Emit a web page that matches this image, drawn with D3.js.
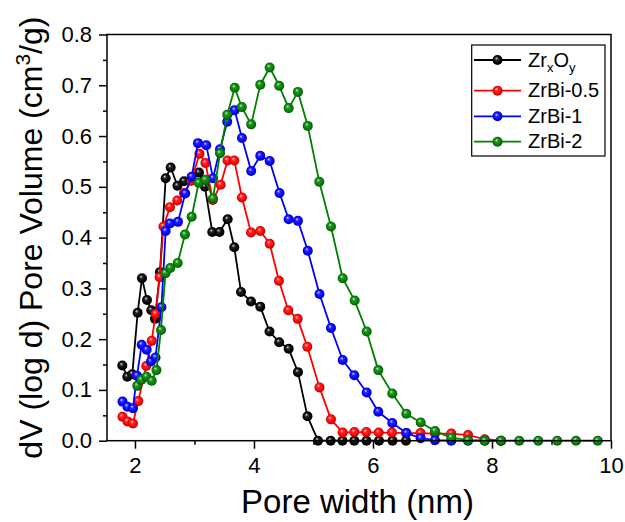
<!DOCTYPE html>
<html><head><meta charset="utf-8">
<script src="https://cdn.jsdelivr.net/npm/d3@7"></script>
<style>
body{margin:0;background:#fff}
svg{display:block;font-family:Arial,"Liberation Sans",sans-serif}
</style>
</head><body><svg id="chart" width="625" height="522"></svg>
<script>
const seriesNames = ["ZrxOy", "ZrBi-0.5", "ZrBi-1", "ZrBi-2"];
const seriesColors = ["#000000", "#ff0000", "#0000ff", "#008000"];

const zrOx_x = [1.787,1.871,1.955,2.045,2.118,2.202,2.274,2.336,2.420,2.516,2.600,2.714,2.824,2.941,3.076,3.176,3.299,3.420,3.558,3.669,3.782,3.950,4.106,4.261,4.424,4.583,4.739,4.899,5.076,5.289,5.487,5.686,5.891,6.101,6.328,6.555];
const zrOx_y = [0.148,0.126,0.131,0.252,0.320,0.277,0.257,0.240,0.332,0.517,0.538,0.502,0.511,0.513,0.528,0.500,0.411,0.411,0.436,0.381,0.293,0.274,0.264,0.215,0.194,0.181,0.135,0.048,0,0,0,0,0,0,0,0];

const zrBi05_x = [1.790,1.874,1.966,2.055,2.190,2.281,2.348,2.415,2.479,2.588,2.711,2.824,2.950,3.084,3.185,3.308,3.440,3.555,3.669,3.798,3.950,4.106,4.264,4.420,4.576,4.734,4.896,5.101,5.294,5.491,5.686,5.887,6.096,6.319,6.555,6.798,7.042,7.316,7.597,7.877,8.151];
const zrBi05_y = [0.047,0.038,0.034,0.078,0.147,0.197,0.250,0.322,0.422,0.460,0.473,0.488,0.512,0.565,0.547,0.474,0.504,0.552,0.552,0.479,0.410,0.413,0.388,0.315,0.257,0.240,0.185,0.105,0.042,0.016,0.017,0.017,0.016,0.016,0.015,0.015,0.014,0.014,0.011,0.003,0];

const zrBi1_x = [1.790,1.874,1.966,2.034,2.113,2.197,2.269,2.345,2.445,2.516,2.588,2.723,2.845,2.953,3.059,3.198,3.311,3.429,3.551,3.676,3.798,3.953,4.106,4.264,4.429,4.583,4.739,4.904,5.101,5.294,5.491,5.686,5.894,6.089,6.324,6.563,6.802,7.042,7.316,7.597,7.877,8.151];
const zrBi1_y = [0.077,0.067,0.064,0.128,0.189,0.179,0.156,0.164,0.263,0.413,0.428,0.431,0.487,0.520,0.586,0.582,0.517,0.574,0.628,0.651,0.596,0.531,0.561,0.551,0.488,0.436,0.433,0.374,0.289,0.222,0.159,0.129,0.095,0.057,0.035,0.015,0.005,0.001,0,0,0,0];

const zrBi2_x = [2.039,2.109,2.193,2.281,2.361,2.437,2.513,2.593,2.718,2.840,2.953,3.071,3.182,3.311,3.429,3.551,3.676,3.795,3.953,4.106,4.264,4.424,4.583,4.739,4.904,5.097,5.294,5.491,5.692,5.894,6.089,6.324,6.560,6.802,7.042,7.316,7.597,7.877,8.151,8.457,8.778,9.096,9.412,9.776];
const zrBi2_y = [0.108,0.120,0.126,0.118,0.139,0.218,0.330,0.340,0.350,0.406,0.441,0.508,0.514,0.477,0.566,0.642,0.695,0.657,0.623,0.701,0.735,0.699,0.655,0.687,0.620,0.510,0.422,0.320,0.276,0.215,0.139,0.093,0.053,0.036,0.019,0.006,0.001,0,0,0,0,0,0,0];

const xTicks = [2, 4, 6, 8, 10];
const xMinorTicks = [3, 5, 7, 9];
const yTicks = [0, 0.1, 0.2, 0.3, 0.4, 0.5, 0.6, 0.7, 0.8];
const yMinorTicks = [0.05, 0.15, 0.25, 0.35, 0.45, 0.55, 0.65, 0.75];

const allX = [zrOx_x, zrBi05_x, zrBi1_x, zrBi2_x];
const allY = [zrOx_y, zrBi05_y, zrBi1_y, zrBi2_y];

const svg = d3.select("#chart");
const L = 107, R = 611, T = 34.5, B = 440.7;
const x = d3.scaleLinear().domain([1.53, 10]).range([L, R]);
const y = d3.scaleLinear().domain([0, 0.8]).range([B, T]);

// gradients
const defs = svg.append("defs");
seriesColors.forEach((c, i) => {
  const g = defs.append("radialGradient").attr("id", "g" + i)
    .attr("cx", "0.5").attr("cy", "0.5").attr("r", "0.55")
    .attr("fx", "0.38").attr("fy", "0.32");
  const base = d3.color(c);
  const hi = d3.interpolateRgb(c, "#ffffff")(0.85);
  const mid = d3.interpolateRgb(c, "#ffffff")(0.15);
  g.append("stop").attr("offset", "0").attr("stop-color", hi);
  g.append("stop").attr("offset", "0.3").attr("stop-color", mid);
  g.append("stop").attr("offset", "0.7").attr("stop-color", base.formatHex());
  g.append("stop").attr("offset", "1").attr("stop-color", d3.interpolateRgb(c, "#000000")(0.45));
});

// axes
const yAxis = d3.axisLeft(y).tickValues(yTicks).tickFormat(d3.format(".1f")).tickSize(8).tickPadding(7);
const yMinor = d3.axisLeft(y).tickValues(yMinorTicks).tickFormat("").tickSize(4);
const xAxis = d3.axisBottom(x).tickValues(xTicks).tickFormat(d3.format("d")).tickSize(8).tickPadding(9);
const xMinor = d3.axisBottom(x).tickValues(xMinorTicks).tickFormat("").tickSize(4);

function styleAxis(g) {
  g.select(".domain").remove();
  g.selectAll("line").attr("stroke", "#000").attr("stroke-width", 1.5);
  g.selectAll("text").attr("font-size", 22).attr("fill", "#000").attr("font-family", "Arial, 'Liberation Sans', sans-serif");
}
svg.append("g").attr("transform", `translate(${L},0)`).call(yAxis).call(styleAxis);
svg.append("g").attr("transform", `translate(${L},0)`).call(yMinor).call(styleAxis);
svg.append("g").attr("transform", `translate(0,${B})`).call(xAxis).call(styleAxis);
svg.append("g").attr("transform", `translate(0,${B})`).call(xMinor).call(styleAxis);

// series
const line = d3.line().x(d => x(d[0])).y(d => y(d[1]));
allX.forEach((xs, i) => {
  const pts = xs.map((v, k) => [v, allY[i][k]]);
  const g = svg.append("g");
  g.append("path").datum(pts).attr("d", line).attr("fill", "none")
    .attr("stroke", seriesColors[i]).attr("stroke-width", 1.8).attr("stroke-linejoin", "round");
  g.selectAll("circle").data(pts).enter().append("circle")
    .attr("cx", d => x(d[0])).attr("cy", d => y(d[1])).attr("r", 5)
    .attr("fill", `url(#g${i})`);
});

// frame
svg.append("rect").attr("x", L).attr("y", T).attr("width", R - L).attr("height", B - T)
  .attr("fill", "none").attr("stroke", "#000").attr("stroke-width", 1.5);

// axis titles
svg.append("text").attr("x", 357.5).attr("y", 513).attr("text-anchor", "middle")
  .attr("font-size", 33).text("Pore width (nm)");
const yt = svg.append("text").attr("transform", `translate(42,${(T + B) / 2}) rotate(-90)`)
  .attr("text-anchor", "middle").attr("font-size", 32);
yt.append("tspan").text("dV (log d) Pore Volume (cm");
yt.append("tspan").attr("font-size", 21).attr("dy", -12).text("3");
yt.append("tspan").attr("dy", 12).text("/g)");

// legend
const lg = svg.append("g");
lg.append("rect").attr("x", 471.7).attr("y", 45).attr("width", 133.3).attr("height", 111)
  .attr("fill", "#fff").attr("stroke", "#000").attr("stroke-width", 1.2);
const legendY = [60, 90.7, 116.3, 141.7];
seriesNames.forEach((n, i) => {
  const ly = legendY[i];
  lg.append("line").attr("x1", 474).attr("x2", 521).attr("y1", ly).attr("y2", ly)
    .attr("stroke", seriesColors[i]).attr("stroke-width", 1.8);
  lg.append("circle").attr("cx", 497.5).attr("cy", ly).attr("r", 5).attr("fill", `url(#g${i})`);
  const t = lg.append("text").attr("x", 528).attr("y", ly + 6.7).attr("font-size", 20);
  if (i === 0) {
    t.append("tspan").text("Zr");
    t.append("tspan").attr("font-size", 13).attr("dy", 5).text("x");
    t.append("tspan").attr("dy", -5).text("O");
    t.append("tspan").attr("font-size", 13).attr("dy", 5).text("y");
  } else {
    t.text(n);
  }
});
</script>
</body></html>
